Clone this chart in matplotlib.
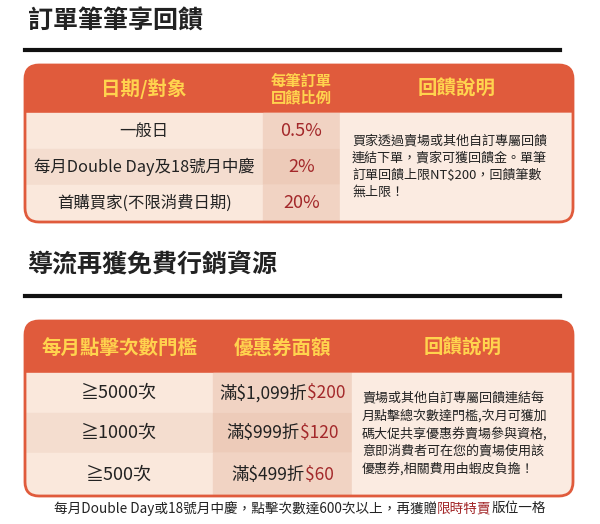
import matplotlib
matplotlib.use("Agg")
import matplotlib.pyplot as plt
from matplotlib.patches import Rectangle, FancyBboxPatch

plt.rcParams["font.family"] = "Noto Sans CJK TC"

title1 = "訂單筆筆享回饋"
title2 = "導流再獲免費行銷資源"

headers1 = ["日期/對象", "每筆訂單\n回饋比例", "回饋說明"]
targets1 = ["一般日", "每月Double Day及18號月中慶", "首購買家(不限消費日期)"]
rates1 = ["0.5%", "2%", "20%"]
desc1 = "買家透過賣場或其他自訂專屬回饋\n連結下單，賣家可獲回饋金。單筆\n訂單回饋上限NT$200，回饋筆數\n無上限！"

headers2 = ["每月點擊次數門檻", "優惠券面額", "回饋說明"]
clicks2 = ["≧5000次", "≧1000次", "≧500次"]
min_spend2 = ["滿$1,099折", "滿$999折", "滿$499折"]
discount2 = ["$200", "$120", "$60"]
desc2 = "賣場或其他自訂專屬回饋連結每\n月點擊總次數達門檻,次月可獲加\n碼大促共享優惠券賣場參與資格,\n意即消費者可在您的賣場使用該\n優惠券,相關費用由蝦皮負擔！"
footer = ["每月Double Day或18號月中慶，點擊次數達600次以上，再獲贈", "限時特賣", "版位一格"]

HEAD = "#E05B3C"
HEAD_TXT = "#FFD34E"
ROW = ["#FAE8DC", "#F4DDCF", "#FAE8DC"]
MID = "#F1D3C3"
RED = "#A3282A"
DARK = "#222222"

fig = plt.figure(figsize=(6, 5.24), dpi=100)
ax = fig.add_axes([0, 0, 1, 1])
ax.set_xlim(0, 600)
ax.set_ylim(524, 0)
ax.axis("off")


def table(y0, hh, rows, cols, mid_col):
    outer = FancyBboxPatch((cols[0], y0), cols[-1] - cols[0], rows[-1] - y0,
                           boxstyle="round,pad=0,rounding_size=14",
                           fc="none", ec=HEAD, lw=2, zorder=5)
    ax.add_patch(outer)
    patches = [Rectangle((cols[0], y0), cols[-1] - cols[0], hh, color=HEAD)]
    for i in range(len(rows) - 1):
        patches.append(Rectangle((cols[0], rows[i]), cols[-1] - cols[0], rows[i + 1] - rows[i], color=ROW[i]))
        patches.append(Rectangle((cols[mid_col], rows[i]), cols[mid_col + 1] - cols[mid_col],
                                 rows[i + 1] - rows[i], color=MID if i != 1 else "#EDCBB9"))
    patches.append(Rectangle((cols[-2], rows[0]), cols[-1] - cols[-2], rows[-1] - rows[0], color="#FBEBE1"))
    for p in patches:
        ax.add_patch(p)
        p.set_clip_path(outer)


def segments(x, y, parts, size, weight="medium"):
    fig.canvas.draw()
    r = fig.canvas.get_renderer()
    ts = [ax.text(0, y, s, color=c, fontsize=size, va="center", fontweight=weight) for s, c in parts]
    inv = ax.transData.inverted()
    widths = []
    for t in ts:
        bb = t.get_window_extent(r)
        widths.append(inv.transform((bb.x1, 0))[0] - inv.transform((bb.x0, 0))[0])
    cur = x - sum(widths) / 2
    for t, w in zip(ts, widths):
        t.set_x(cur)
        cur += w


# section 1
ax.text(28, 22, title1, fontsize=18, fontweight="bold", va="center", color=DARK)
ax.plot([25, 560], [50, 50], color="#111111", lw=3)
c1 = [25, 263, 340, 573]
r1 = [113, 149, 185, 222]
table(65, 48, r1, c1, 1)
ax.text((c1[0] + c1[1]) / 2, 89, headers1[0], color=HEAD_TXT, fontsize=14, fontweight="bold", ha="center", va="center")
ax.text((c1[1] + c1[2]) / 2, 89, headers1[1], color=HEAD_TXT, fontsize=11, fontweight="bold", ha="center", va="center", linespacing=1.0)
ax.text((c1[2] + c1[3]) / 2, 89, headers1[2], color=HEAD_TXT, fontsize=14, fontweight="bold", ha="center", va="center")
for i in range(3):
    yc = (r1[i] + r1[i + 1]) / 2
    ax.text((c1[0] + c1[1]) / 2, yc, targets1[i], fontsize=11.8, fontweight="medium", ha="center", va="center", color=DARK)
    ax.text((c1[1] + c1[2]) / 2, yc, rates1[i], fontsize=13, fontweight="medium", ha="center", va="center", color=RED)
ax.text(352, 167, desc1, fontsize=9.4, fontweight="medium", va="center", ha="left", color=DARK, linespacing=1.4)

# section 2
ax.text(28, 265, title2, fontsize=18, fontweight="bold", va="center", color=DARK)
ax.plot([25, 560], [296, 296], color="#111111", lw=3)
c2 = [25, 213, 352, 573]
r2 = [373, 413, 453, 496]
table(321, 52, r2, c2, 1)
for j in range(3):
    ax.text((c2[j] + c2[j + 1]) / 2, 348, headers2[j], color=HEAD_TXT, fontsize=14, fontweight="bold", ha="center", va="center")
for i in range(3):
    yc = (r2[i] + r2[i + 1]) / 2
    ax.text((c2[0] + c2[1]) / 2, yc, clicks2[i], fontsize=13, fontweight="medium", ha="center", va="center", color=DARK)
    segments((c2[1] + c2[2]) / 2, yc, [(min_spend2[i], DARK), (discount2[i], RED)], 12.5)
ax.text(362, 434, desc2, fontsize=9.4, fontweight="medium", va="center", ha="left", color=DARK, linespacing=1.4)

segments(300, 508, [(footer[0], DARK), (footer[1], RED), (footer[2], DARK)], 9.8)

fig.savefig("out.png", dpi=100, facecolor="white")
